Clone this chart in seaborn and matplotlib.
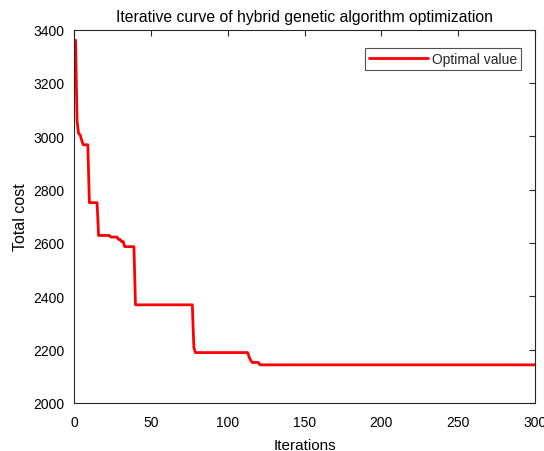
import numpy as np
import pandas as pd
import matplotlib
matplotlib.use("Agg")
import matplotlib.pyplot as plt
import seaborn as sns

# Data: iterations where the best value changes, and the value reached there
change_iter = [1, 2, 3, 4, 5, 6, 10, 16, 24, 29, 31, 33, 40, 78, 79, 114, 115, 116, 121]
change_value = [3360, 3055, 3010, 3005, 2985, 2968, 2751, 2628, 2622, 2613, 2605, 2586,
                2368, 2208, 2189, 2172, 2160, 2152, 2143]
n_iter = 300

title = "Iterative curve of hybrid genetic algorithm optimization"
x_label = "Iterations"
y_label = "Total cost"
legend_label = "Optimal value"
x_ticks = [0, 50, 100, 150, 200, 250, 300]
y_ticks = [2000, 2200, 2400, 2600, 2800, 3000, 3200, 3400]

# best-so-far value per iteration (held until next change)
iters = np.arange(1, n_iter + 1)
bounds = change_iter[1:] + [n_iter + 1]
vals = np.repeat(change_value, np.diff([change_iter[0]] + bounds))
df = pd.DataFrame({"Iterations": iters, "Total cost": vals, "series": legend_label})

sns.set_theme(style="white")
plt.rcParams["font.family"] = ["Liberation Sans", "DejaVu Sans"]
plt.rcParams["axes.edgecolor"] = "#262626"
plt.rcParams["axes.linewidth"] = 0.8

fig = plt.figure(figsize=(5.44, 4.52), dpi=100)
ax = fig.add_axes([74 / 544, 1 - 404 / 452, (535 - 74) / 544, (404 - 30.5) / 452])

sns.lineplot(data=df, x="Iterations", y="Total cost", hue="series",
             palette=["#FF0000"], linewidth=2.0, ax=ax)

ax.set_xlim(0, 300)
ax.set_ylim(2000, 3400)
ax.set_xticks(x_ticks)
ax.set_yticks(y_ticks)
ax.tick_params(direction="in", length=4, width=0.8, colors="#262626",
               labelsize=10, top=True, right=True, labelcolor="#000000")
ax.tick_params(axis="x", pad=8.5)
ax.tick_params(axis="y", pad=7)
for s in ax.spines.values():
    s.set_visible(True)
    s.set_color("#262626")
    s.set_linewidth(0.8)

ax.set_xlabel(x_label, fontsize=11, color="#000000", labelpad=6.5)
ax.set_ylabel(y_label, fontsize=11.5, color="#000000", labelpad=3.5)
ax.set_title(title, fontsize=11.3, color="#000000", pad=6)

leg = ax.legend(loc="upper right", bbox_to_anchor=(447 / 461, 1 - 18.5 / 373.5),
                borderaxespad=0, fontsize=10, frameon=True, fancybox=False,
                edgecolor="#262626", handlelength=4.2,
                borderpad=0.3, handletextpad=0.3)
leg.get_frame().set_linewidth(0.8)
for line in leg.get_lines():
    line.set_linewidth(2.0)

fig.savefig("out.png", dpi=100, facecolor="white")
